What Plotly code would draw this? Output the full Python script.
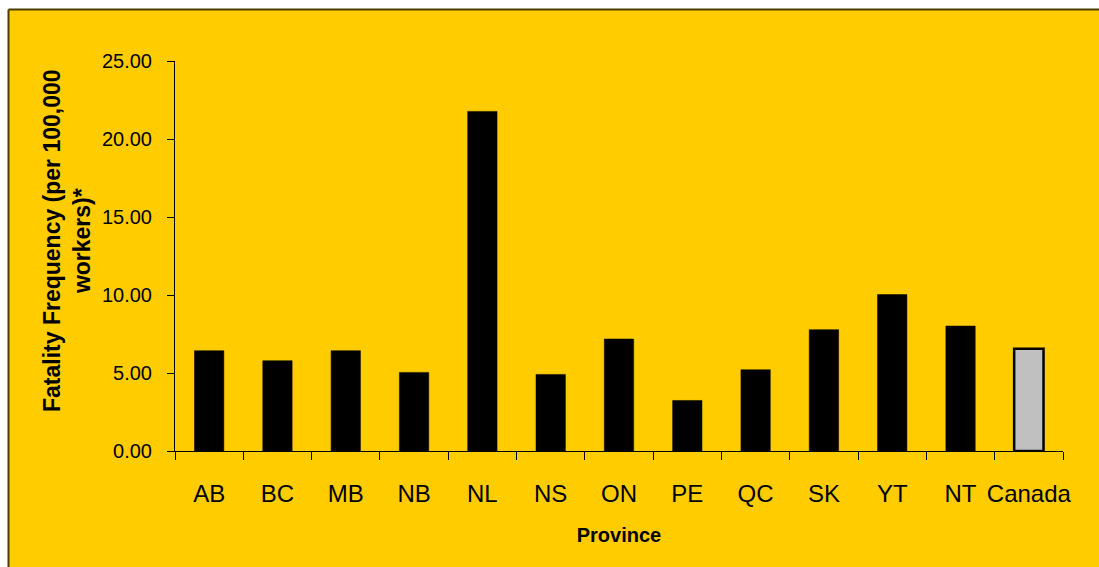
import plotly.graph_objects as go

# Fatality frequency per 100,000 workers, by province/territory and national
provinces = ["AB", "BC", "MB", "NB", "NL", "NS", "ON", "PE", "QC", "SK", "YT", "NT", "Canada"]
rates = [6.43, 5.79, 6.43, 5.04, 21.77, 4.91, 7.18, 3.24, 5.21, 7.78, 10.03, 8.01, 6.55]

bar_colors = ["#000000"] * (len(provinces) - 1) + ["#C0C0C0"]
edge_widths = [0.5] * (len(provinces) - 1) + [2.5]

W, H = 1099, 567
ML, MR, MT, MB = 175, 36, 61, 116
plot_w = W - ML - MR
plot_h = H - MT - MB


def px_x(p):
    return (p - ML) / plot_w


def px_y(p):
    return (H - MB - p) / plot_h


frame_line = dict(color="#4A3F00", width=2)

fig = go.Figure()
fig.add_trace(go.Bar(
    x=provinces,
    y=rates,
    marker=dict(color=bar_colors, line=dict(color="#000000", width=edge_widths)),
    hoverinfo="x+y",
))

fig.update_layout(
    width=W,
    height=H,
    margin=dict(l=ML, r=MR, t=MT, b=MB, autoexpand=False),
    paper_bgcolor="#FFCC00",
    plot_bgcolor="rgba(0,0,0,0)",
    bargap=0.57,
    showlegend=False,
    font=dict(family="Liberation Sans, Arial, sans-serif", color="#000000"),
    shapes=[
        # white strips above and left of the yellow chart frame
        dict(type="rect", xref="paper", yref="paper", layer="below",
             x0=px_x(-5), x1=px_x(W + 5), y0=px_y(9.5), y1=px_y(-5),
             fillcolor="#FFFFFF", line=dict(width=0)),
        dict(type="rect", xref="paper", yref="paper", layer="below",
             x0=px_x(-5), x1=px_x(8.5), y0=px_y(H + 5), y1=px_y(-5),
             fillcolor="#FFFFFF", line=dict(width=0)),
        # frame edges
        dict(type="line", xref="paper", yref="paper", layer="below",
             x0=px_x(8.5), x1=px_x(W + 5), y0=px_y(9.5), y1=px_y(9.5),
             line=frame_line),
        dict(type="line", xref="paper", yref="paper", layer="below",
             x0=px_x(8.5), x1=px_x(8.5), y0=px_y(9.5), y1=px_y(H + 5),
             line=frame_line),
    ],
    annotations=[
        dict(
            text="<b>Fatality Frequency (per 100,000<br>workers)*</b>",
            xref="paper", yref="paper",
            x=px_x(67), y=px_y(241),
            xanchor="center", yanchor="middle",
            textangle=-90, showarrow=False,
            font=dict(size=23, family="Liberation Sans, Arial, sans-serif"),
        )
    ],
)

fig.update_xaxes(
    type="category",
    automargin=False,
    tickangle=0,
    showline=True, linecolor="#000000", linewidth=1,
    ticks="outside", tickson="boundaries", ticklen=8, tickcolor="#000000", tickwidth=1,
    tickfont=dict(size=24),
    ticklabelstandoff=21,
    title=dict(text="<b>Province</b>", font=dict(size=20), standoff=22),
    showgrid=False, zeroline=False,
)

fig.update_yaxes(
    range=[0, 25], dtick=5, tickformat=".2f",
    automargin=False,
    showline=True, linecolor="#000000", linewidth=1,
    ticks="outside", ticklen=7, tickcolor="#000000", tickwidth=1,
    tickfont=dict(size=20),
    ticklabelstandoff=11,
    showgrid=False, zeroline=False,
)

fig.write_html("out.html")
